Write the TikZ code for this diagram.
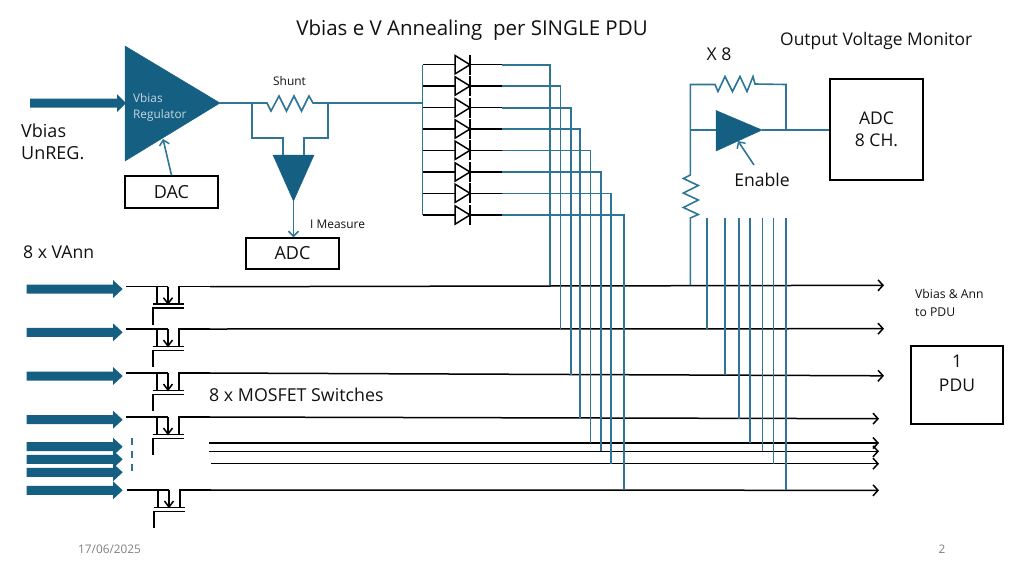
\documentclass[tikz,border=0pt]{standalone}
\usepackage{fontspec}
\setmainfont{Open Sans}
\usetikzlibrary{arrows.meta}
\definecolor{teal1}{HTML}{156082}
\definecolor{wire}{HTML}{2F7596}
\definecolor{txt}{HTML}{111111}
\tikzset{
  wirel/.style={draw=wire,line width=1.6pt,line join=miter},
  blk/.style={draw=black,line width=1.5pt},
  busline/.style={draw=black,line width=1.5pt,-{Straight Barb[length=5pt,width=11pt,line width=1.5pt]}},
  wirearrow/.style={wirel,-{Straight Barb[length=5pt,width=10pt,line width=1.5pt]}},
  solidtri/.style={fill=teal1,draw=teal1,line width=.5pt,line join=miter},
  box/.style={draw=black,line width=1.5pt,fill=white,inner sep=0pt,align=center,font=\fontsize{18}{22}\selectfont,text=txt},
  lab/.style={inner sep=0pt,text=txt,align=left,font=\fontsize{17.6}{22}\selectfont},
  smalllab/.style={inner sep=0pt,text=txt,align=left,font=\fontsize{11.9}{18}\selectfont},
  foot/.style={inner sep=0pt,text=gray,font=\fontsize{11.8}{14}\selectfont},
}
\newcommand{\blockarrow}[3]{% x0, y, name
  \fill[teal1] (#1,#2-4.5) -- (113,#2-4.5) -- (113,#2-9) -- (122.7,#2) -- (113,#2+9) -- (113,#2+4.5) -- (#1,#2+4.5) -- cycle;
  \coordinate (#3) at (122.7,#2);
}
\newcommand{\mosfet}[3]{% dx, y in, name
  \begin{scope}[shift={(#1,#2)}]
    \coordinate (#3in) at (126,0);
    \coordinate (#3out) at (210,0);
    \draw[blk,line join=miter] (#3in) -- (157,0) -- (157,17.5);
    \draw[blk] (157,0) -- (168,0);
    \draw[blk] (168,0) -- (168,17);
    \draw[blk] (163.5,11) -- (168,17) -- (172.5,11);
    \draw[blk,line join=miter] (179,17.5) -- (179,0) -- (#3out);
    \draw[blk] (152.5,17.5) -- (183.5,17.5);
    \draw[blk,line join=miter] (183.5,21.3) -- (153,21.3) -- (153,38);
  \end{scope}
}
\begin{document}
\begin{tikzpicture}[x=1pt,y=-1pt]
\useasboundingbox (0,0) rectangle (1024,576);
% ---------- title and labels
\node[lab,anchor=center,font=\fontsize{20.5}{24}\selectfont] (title) at (472,30) {Vbias e V Annealing\ \ per SINGLE PDU};
\node[lab,anchor=west,font=\fontsize{17.4}{22}\selectfont] (ovm) at (780,41) {Output Voltage Monitor};
\node[lab,anchor=center] (x8) at (719,54.5) {X 8};
\node[smalllab,anchor=center] (shuntl) at (289.5,81) {Shunt};
\node[smalllab,anchor=west] (imeas) at (310,224) {I Measure};
\node[lab,anchor=west,font=\fontsize{18}{22}\selectfont] (vunreg) at (21,141.5) {Vbias\\UnREG.};
\node[lab,anchor=west] (vann) at (23,252.5) {8 x VAnn};
\node[lab,anchor=west,font=\fontsize{17.8}{22}\selectfont] (mosl) at (209,395) {8 x MOSFET Switches};
\node[lab,anchor=center] (enl) at (762,179.5) {Enable};
\node[smalllab,anchor=west,font=\fontsize{12.2}{18}\selectfont] (toPDU) at (915,302.5) {Vbias \& Ann\\to PDU};
\node[foot] (date) at (109.5,549) {17/06/2025};
\node[foot] (pg) at (942,549) {2};
% ---------- boxes
\node[box,minimum width=93pt,minimum height=32pt] (dac) at (171.5,192) {\raisebox{-1pt}{DAC}};
\node[box,minimum width=93pt,minimum height=31pt] (adc) at (292.5,253.5) {\raisebox{-1pt}{ADC}};
\node[box,minimum width=93pt,minimum height=101pt,font=\fontsize{17.5}{23}\selectfont] (adc8) at (876.5,129.5) {\raisebox{-1.5pt}{ADC}\\8 CH.};
\node[box,minimum width=92pt,minimum height=78pt] (pdu) at (957,385) {};
\node[lab,align=center,font=\fontsize{17.5}{24}\selectfont] (pdut) at (957,373.5) {1\\PDU};
% ---------- regulator
\draw[solidtri] (125,46) -- (125,161) -- (220,103) -- cycle;
\coordinate (regout) at (220,103);
\coordinate (regdac) at (163,139);
\node[inner sep=0pt,align=left,text=white!75!teal1,anchor=west,font=\fontsize{11.8}{16}\selectfont] (regl) at (133,107.5) {Vbias\\Regulator};
\fill[teal1] (30,98.5) -- (117,98.5) -- (117,94) -- (126,103) -- (117,112) -- (117,107.5) -- (30,107.5) -- cycle;
\coordinate (vin) at (126,103);
\draw[wirearrow] (dac.north) -- (regdac);
% ---------- shunt
\coordinate (sh0) at (267,103);
\coordinate (sh1) at (313,103);
\coordinate (busj) at (422.5,103);
\draw[wirel] (regout) -- (sh0) -- ++(4,8) -- ++(8,-15) -- ++(7.5,15) -- ++(7.5,-15) -- ++(7.5,15) -- ++(7.5,-15) -- (sh1) -- (busj);
% sense amp
\draw[solidtri] (273,155) -- (314,155) -- (293.5,201) -- cycle;
\coordinate (sa) at (293.5,201);
\draw[wirel] (252,103) -- (252,138) -- (283,138) -- (283,155);
\draw[wirel] (328,103) -- (328,138) -- (304,138) -- (304,155);
\draw[wirearrow] (sa) -- (sa |- adc.north);
% ---------- horizontal buses and MOSFETs
\foreach \n/\y in {1/289,2/332.3,3/376,4/419.7,5/446.7,6/459.3,7/472.3,8/490.3}{
  \blockarrow{26.7}{\y}{ann\n}
}
\mosfet{0}{286.7}{ma}
\mosfet{0}{329}{mb}
\mosfet{0}{373}{mc}
\mosfet{0}{417}{md}
\mosfet{1}{490}{me}
\coordinate (e1) at (884,285.3);
\coordinate (e2) at (884,328.7);
\coordinate (e3) at (884,375.8);
\coordinate (e4) at (879,418.7);
\coordinate (e5) at (879,443);
\coordinate (e6) at (879,451.3);
\coordinate (e7) at (879,463.7);
\coordinate (e8) at (879,490.3);
\coordinate (s5) at (209,443);
\coordinate (s6) at (209,451.3);
\coordinate (s7) at (211,463.7);
\draw[busline] (maout) -- (e1);
\draw[busline] (mbout) -- (e2);
\draw[busline] (mcout) -- (e3);
\draw[busline] (mdout) -- (e4);
\draw[busline] (s5) -- (e5);
\draw[busline] (s6) -- (e6);
\draw[busline] (s7) -- (e7);
\draw[busline] (meout) -- (e8);
\draw[draw=wire,line width=1.5pt,dash pattern=on 7pt off 6pt] (132,437.5) -- (132,473);
% ---------- diodes
\draw[wirel] (422.5,64.7) -- (422.5,215);
\foreach \n/\y/\x/\b in {1/64.7/549.8/285.3,2/86/560.5/328.7,3/107.7/571/375.4,4/129/580.2/418.7,5/150.3/590.3/443,6/172/601/451.3,7/193.3/611/463.7,8/215/624/490.3}{
  \draw[blk,line join=miter,fill=white] (455,\y-9.2) -- (470,\y) -- (455,\y+9.2) -- cycle;
  \draw[blk] (470,\y-10) -- (470,\y+10);
  \draw[blk] (422.5,\y) -- (455,\y);
  \draw[blk] (470,\y) -- (502,\y);
  \draw[wirel] (502,\y) -- (\x,\y) -- (\x,\b);
}
% ---------- output monitor
\draw[wirel] (690.3,285.3) -- (690.3,218) -- ++(8,-3.5) -- ++(-15,-7) -- ++(15,-7.5) -- ++(-15,-7) -- ++(15,-7.5) -- ++(-15,-7) -- ++(7,-3.5) -- (690.3,84.5) -- (715,84.5) -- ++(3,7) -- ++(7,-15) -- ++(7.5,15) -- ++(7.5,-15) -- ++(7,15) -- ++(6,-15) -- ++(2,7.5) -- (786,84.5) -- (786,130);
\draw[solidtri] (716,110.5) -- (716,151) -- (762,130) -- cycle;
\coordinate (ampout) at (762,130);
\draw[wirel] (690.3,130) -- (716,130);
\draw[wirel] (ampout) -- (adc8.west |- ampout);
\coordinate (enfrom) at (754,165);
\coordinate (ento) at (738,141);
\draw[wirearrow] (enfrom) -- (ento);
\foreach \x/\b in {706.8/328.7,725.2/375.4,739/418.7,749.8/443,762.5/451.3,773.3/463.7,786.2/490.3}{
  \draw[wirel] (\x,217.5) -- (\x,\b);
}
\end{tikzpicture}
\end{document}
